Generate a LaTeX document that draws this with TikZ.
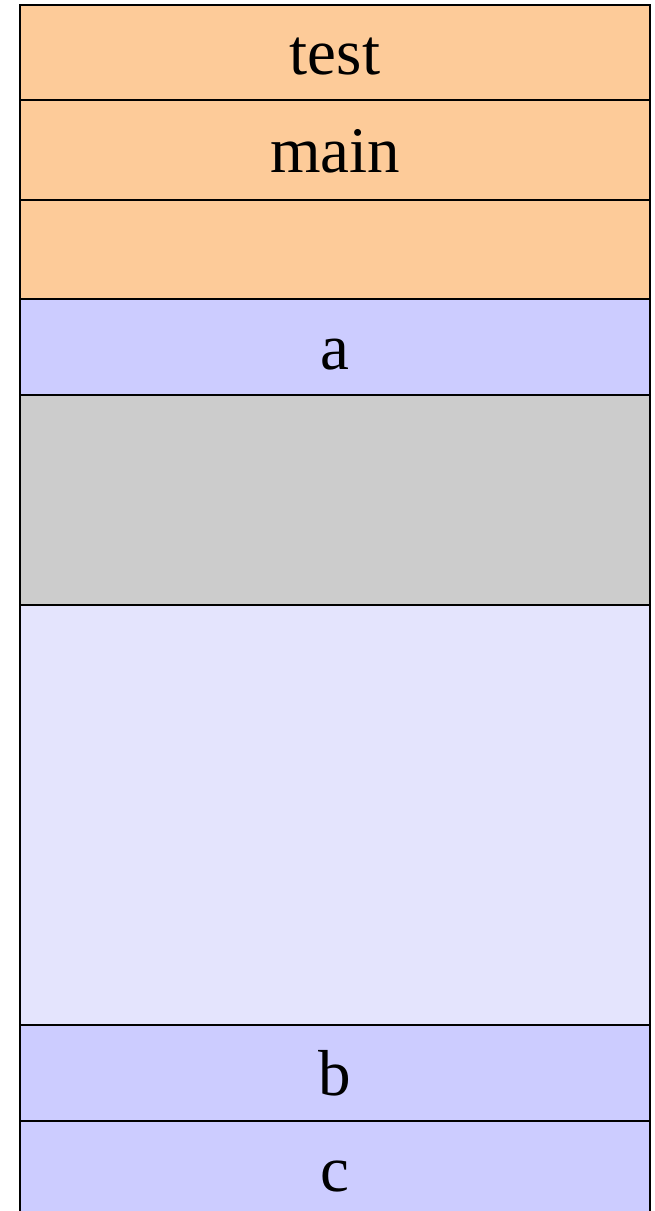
\documentclass[tikz,border=0pt]{standalone}
\usepackage{fontspec}
\setmainfont{Liberation Serif}
\usetikzlibrary{positioning}
\definecolor{frameorange}{RGB}{253,203,153}
\definecolor{localblue}{RGB}{204,204,255}
\definecolor{gapgray}{RGB}{204,204,204}
\definecolor{freeblue}{RGB}{228,228,253}

\begin{document}
\begin{tikzpicture}[x=1pt, y=1pt, node distance=0pt,
    cell/.style={rectangle, draw, line width=2pt, outer sep=0pt, minimum width=630pt, inner sep=0pt,
      text height=44pt, text depth=0pt},
    font=\fontsize{65}{78}\selectfont]
            \useasboundingbox (0,0) rectangle (655,-1211);
            \clip (0,0) rectangle (655,-1211);

            % Marcos
            \node[cell, fill=frameorange, minimum height=95pt, anchor=north west] (test) at (20,-5) {test};
            \node[cell, fill=frameorange, minimum height=100pt, below=of test] (main) {main};
            \node[cell, fill=frameorange, minimum height=99pt, below=of main] (vacio) {};

            % Variables y huecos
            \node[cell, fill=localblue, minimum height=96pt, below=of vacio] (a) {a};
            \node[cell, fill=gapgray, minimum height=210pt, below=of a] (hueco) {};
            \node[cell, fill=freeblue, minimum height=420pt, below=of hueco] (libre) {};
            \node[cell, fill=localblue, minimum height=96pt, below=of libre] (b) {b};
            \node[cell, fill=localblue, minimum height=96pt, below=of b] (c) {c};
        \end{tikzpicture}
\end{document}
